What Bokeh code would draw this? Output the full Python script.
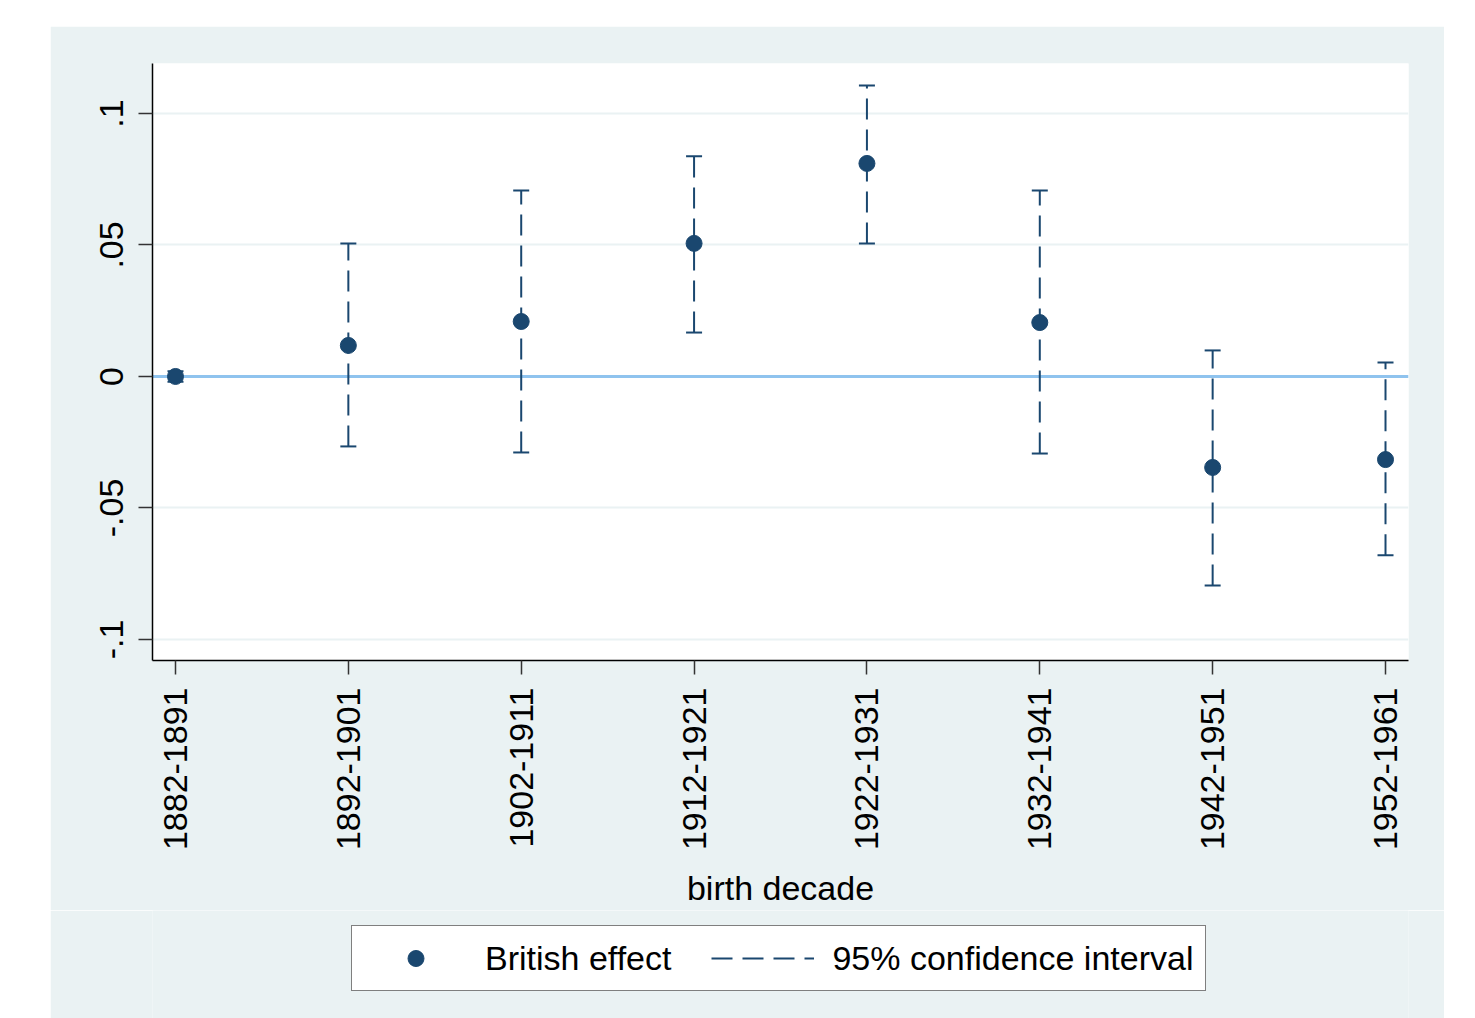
import math
from bokeh.plotting import figure
from bokeh.layouts import column
from bokeh.models import Range1d, FixedTicker, Span, Legend, LegendItem, ColumnDataSource
from bokeh.embed import file_html
from bokeh.resources import INLINE

# ---- data ----
categories = ["1882-1891", "1892-1901", "1902-1911", "1912-1921",
              "1922-1931", "1932-1941", "1942-1951", "1952-1961"]
positions = [1, 2, 3, 4, 5, 6, 7, 8]
effect = [0.0, 0.0118, 0.0209, 0.0506, 0.081, 0.0205, -0.0346, -0.0316]
ci_low = [-0.002, -0.0266, -0.0289, 0.0167, 0.0506, -0.0293, -0.0795, -0.068]
ci_high = [0.002, 0.0506, 0.0707, 0.0837, 0.1106, 0.0707, 0.0099, 0.0053]
ytick_vals = [-0.1, -0.05, 0.0, 0.05, 0.1]
ytick_labels = ["-.1", "-.05", "0", ".05", ".1"]
legend_labels = ["British effect", "95% confidence interval"]

NAVY = "#1a476f"
PANEL = "#eaf2f3"
FONT = "Liberation Sans"
FS = "34px"
DASH = "21 10"

src = ColumnDataSource(dict(x=positions, y=effect, lo=ci_low, hi=ci_high))

p = figure(frame_width=1256, frame_height=597,
           x_range=Range1d(0.867, 8.133), y_range=Range1d(-0.108, 0.119),
           output_backend="svg", toolbar_location=None,
           min_border_left=102, min_border_right=36,
           min_border_top=37, min_border_bottom=250)
p.border_fill_color = PANEL
p.background_fill_color = "white"
p.outline_line_color = None

# grid
p.xgrid.grid_line_color = None
p.ygrid.ticker = FixedTicker(ticks=ytick_vals)
p.ygrid.grid_line_color = PANEL
p.ygrid.grid_line_width = 2

zero = Span(location=0, dimension="width", line_color="#8fc3ee", line_width=3, level="underlay")
p.add_layout(zero)

# CI bars
p.segment(x0="x", y0="lo", x1="x", y1="hi", source=src,
          line_color=NAVY, line_width=2, line_dash=DASH)
p.scatter(x="x", y="lo", source=src, marker="dash", size=16, line_color=NAVY, line_width=2)
p.scatter(x="x", y="hi", source=src, marker="dash", size=16, line_color=NAVY, line_width=2)
p.scatter(x="x", y="y", source=src, marker="circle", size=16,
          fill_color=NAVY, line_color=NAVY)

# axes
p.xaxis.ticker = FixedTicker(ticks=positions)
p.xaxis.major_label_overrides = {pos: lab for pos, lab in zip(positions, categories)}
p.xaxis.major_label_orientation = math.pi / 2
p.xaxis.axis_label = "birth decade"
p.yaxis.ticker = FixedTicker(ticks=ytick_vals)
p.yaxis.major_label_overrides = {v: lab for v, lab in zip(ytick_vals, ytick_labels)}
p.yaxis.major_label_orientation = "vertical"

for ax in (p.xaxis[0], p.yaxis[0]):
    ax.axis_line_color = "black"
    ax.axis_line_width = 1.5
    ax.major_tick_line_color = "#333333"
    ax.major_tick_line_width = 1.5
    ax.major_tick_in = 0
    ax.major_tick_out = 14
    ax.minor_tick_line_color = None
    ax.major_label_text_font = FONT
    ax.major_label_text_font_size = FS
    ax.major_label_text_color = "black"
    ax.axis_label_text_font = FONT
    ax.axis_label_text_font_size = FS
    ax.axis_label_text_font_style = "normal"
    ax.axis_label_text_color = "black"

p.xaxis.major_label_standoff = 13
p.xaxis.axis_label_standoff = 16
p.yaxis.major_label_standoff = 15

# ---- legend strip (separate figure below, same panel colour) ----
# the proxy renderers use the real data, but the ranges keep them out of view
lf = figure(width=1394, height=108, x_range=Range1d(100, 101), y_range=Range1d(100, 101),
            output_backend="svg", toolbar_location=None,
            min_border_left=102, min_border_right=36,
            min_border_top=0, min_border_bottom=0)
lf.axis.visible = False
lf.grid.visible = False
lf.outline_line_color = None
lf.background_fill_color = PANEL
lf.border_fill_color = PANEL

leg_pt = lf.scatter(x="x", y="y", source=src, marker="circle", size=16,
                    fill_color=NAVY, line_color=NAVY)
leg_ci = lf.segment(x0="x", y0="lo", x1="x", y1="hi", source=src,
                    line_color=NAVY, line_width=2, line_dash=DASH)

legend = Legend(items=[LegendItem(label=legend_labels[0], renderers=[leg_pt]),
                       LegendItem(label=legend_labels[1], renderers=[leg_ci])],
                orientation="horizontal", location=(199, 27),
                glyph_width=103, glyph_height=40, label_height=40,
                label_text_font=FONT, label_text_font_size=FS,
                label_text_color="black",
                label_standoff=18, spacing=40, padding=12, margin=0,
                border_line_color="black", border_line_width=1,
                background_fill_color="white", background_fill_alpha=1)
lf.add_layout(legend, "center")

layout = column(p, lf, spacing=0)
layout.margin = (26, 0, 0, 50)

open("out.html", "w").write(file_html(layout, INLINE))
